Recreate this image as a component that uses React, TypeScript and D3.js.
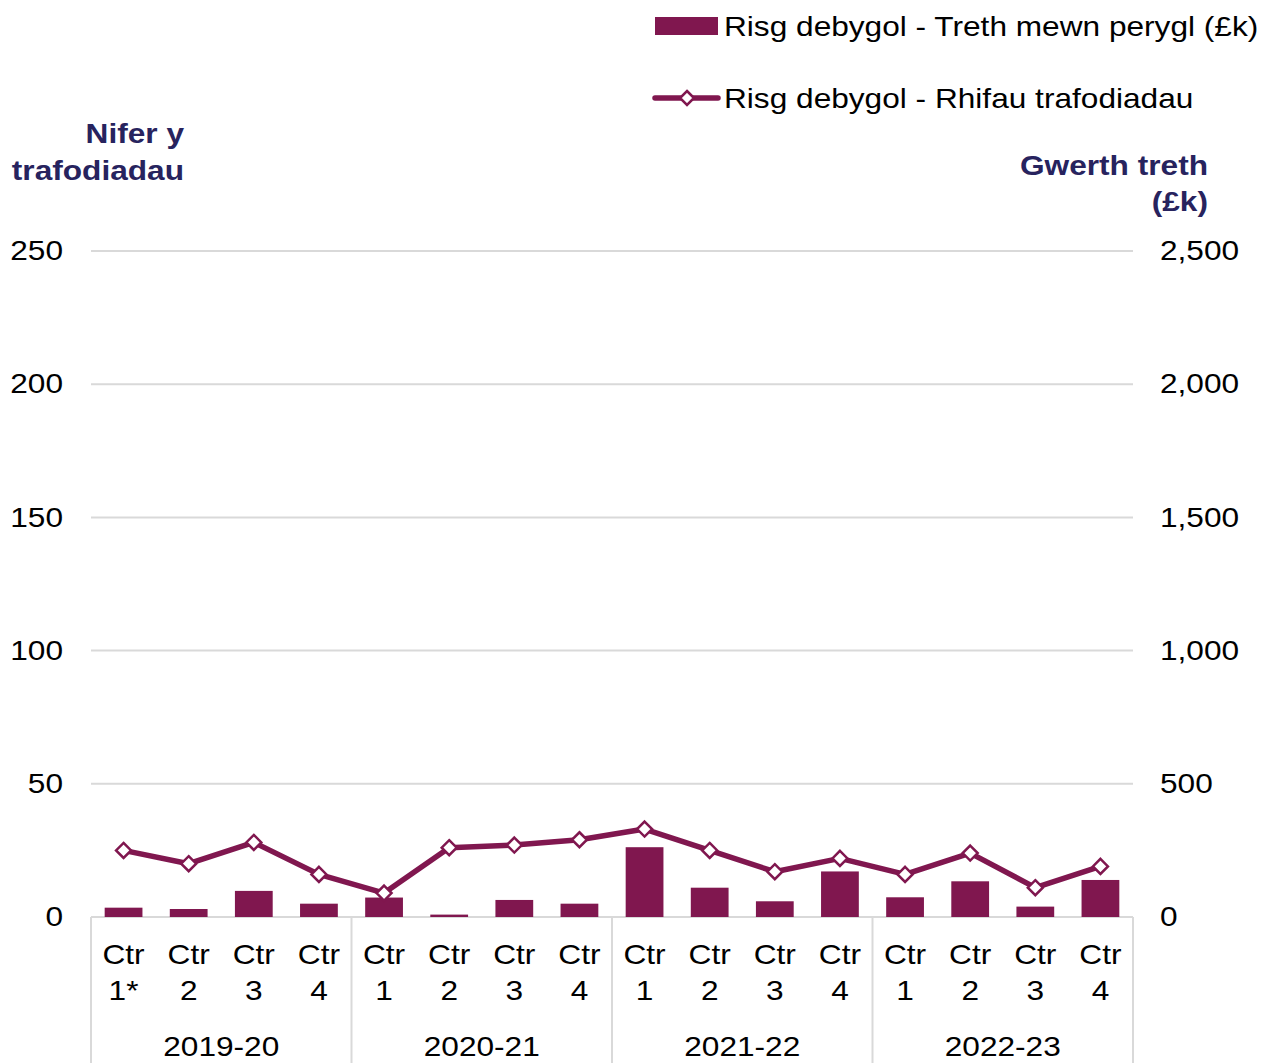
import React from "react";
import * as d3 from "d3";

const quarters = ["Ctr\n1*", "Ctr\n2", "Ctr\n3", "Ctr\n4", "Ctr\n1", "Ctr\n2", "Ctr\n3", "Ctr\n4", "Ctr\n1", "Ctr\n2", "Ctr\n3", "Ctr\n4", "Ctr\n1", "Ctr\n2", "Ctr\n3", "Ctr\n4"];
const years = ["2019-20", "2020-21", "2021-22", "2022-23"];
const taxValues = [35, 30, 98, 50, 73, 9, 64, 50, 262, 110, 59, 171, 74, 134, 39, 139];
const transactions = [25, 20, 28, 16, 9, 26, 27, 29, 33, 25, 17, 22, 16, 24, 11, 19];
const leftTicks = [0, 50, 100, 150, 200, 250];
const rightTicks = [0, 500, 1000, 1500, 2000, 2500];

const COLOR = "#80174f";
const TITLE = "#27235e";
const GRID = "#d9d9d9";
const FONT = "Liberation Sans, Arial, sans-serif";
const SX = 1.13;

function T({ x, y, anchor = "start", size = 28, weight = "normal", fill = "#000", dy = "0", children }: any) {
  return (
    <g transform={`translate(${x},${y}) scale(${SX},1)`}>
      <text x={0} y={0} dy={dy} textAnchor={anchor} fontSize={size} fontWeight={weight} fill={fill}>{children}</text>
    </g>
  );
}

export default function App() {
  const W = 1274, H = 1063;
  const x0 = 91, x1 = 1133, yTop = 251, yBot = 917;
  const idx = quarters.map((_, i) => String(i));
  const x = d3.scaleBand().domain(idx).range([x0, x1]).paddingInner(0.42).paddingOuter(0.21);
  const xc = (i: number) => (x(String(i)) as number) + x.bandwidth() / 2;
  const yL = d3.scaleLinear().domain([0, 250]).range([yBot, yTop]);
  const yR = d3.scaleLinear().domain([0, 2500]).range([yBot, yTop]);
  const step = (x1 - x0) / quarters.length;
  const line = d3.line<number>().x((_, i) => xc(i)).y((d) => yL(d));
  const diamond = (cx: number, cy: number, r: number) => `M${cx},${cy - r}L${cx + r},${cy}L${cx},${cy + r}L${cx - r},${cy}Z`;

  return (
    <svg width={W} height={H} style={{ display: "block", position: "absolute", left: 0, top: 0 }} fontFamily={FONT}>
      <rect width={W} height={H} fill="#fff" />
      {leftTicks.map((t) => (
        <line key={t} x1={x0} x2={x1} y1={yL(t)} y2={yL(t)} stroke={GRID} strokeWidth={2} />
      ))}
      {leftTicks.map((t) => (
        <T key={"l" + t} x={63} y={yL(t)} dy="0.33em" anchor="end">{t}</T>
      ))}
      {rightTicks.map((t) => (
        <T key={"r" + t} x={1160} y={yR(t)} dy="0.33em">{d3.format(",")(t)}</T>
      ))}
      <T x={184} y={143} anchor="end" weight="bold" fill={TITLE}>Nifer y</T>
      <T x={184} y={180} anchor="end" weight="bold" fill={TITLE}>trafodiadau</T>
      <T x={1208} y={175} anchor="end" weight="bold" fill={TITLE}>Gwerth treth</T>
      <T x={1208} y={211} anchor="end" weight="bold" fill={TITLE}>(£k)</T>
      {taxValues.map((v, i) => (
        <rect key={"b" + i} x={x(String(i))} y={yR(v)} width={x.bandwidth()} height={yBot - yR(v)} fill={COLOR} />
      ))}
      {[0, 4, 8, 12, 16].map((k) => (
        <line key={"s" + k} x1={x0 + k * step} x2={x0 + k * step} y1={yBot} y2={H} stroke={GRID} strokeWidth={2} />
      ))}
      {quarters.map((q, i) => {
        const [a, b] = q.split("\n");
        return (
          <g key={"q" + i}>
            <T x={xc(i)} y={964} anchor="middle">{a}</T>
            <T x={xc(i)} y={1000} anchor="middle">{b}</T>
          </g>
        );
      })}
      {years.map((yv, k) => (
        <T key={"y" + k} x={x0 + (k * 4 + 2) * step} y={1056} anchor="middle">{yv}</T>
      ))}
      <path d={line(transactions) || ""} fill="none" stroke={COLOR} strokeWidth={5.5} strokeLinejoin="round" />
      {transactions.map((v, i) => (
        <path key={"m" + i} d={diamond(xc(i), yL(v), 7.5)} fill="#fff" stroke={COLOR} strokeWidth={2.5} />
      ))}
      <rect x={655} y={17} width={63} height={18} fill={COLOR} />
      <T x={724} y={26} dy="0.35em">Risg debygol - Treth mewn perygl (£k)</T>
      <line x1={655} x2={718} y1={98} y2={98} stroke={COLOR} strokeWidth={5.5} strokeLinecap="round" />
      <path d={diamond(687, 98, 7)} fill="#fff" stroke={COLOR} strokeWidth={2.5} />
      <T x={724} y={98} dy="0.35em">Risg debygol - Rhifau trafodiadau</T>
    </svg>
  );
}
